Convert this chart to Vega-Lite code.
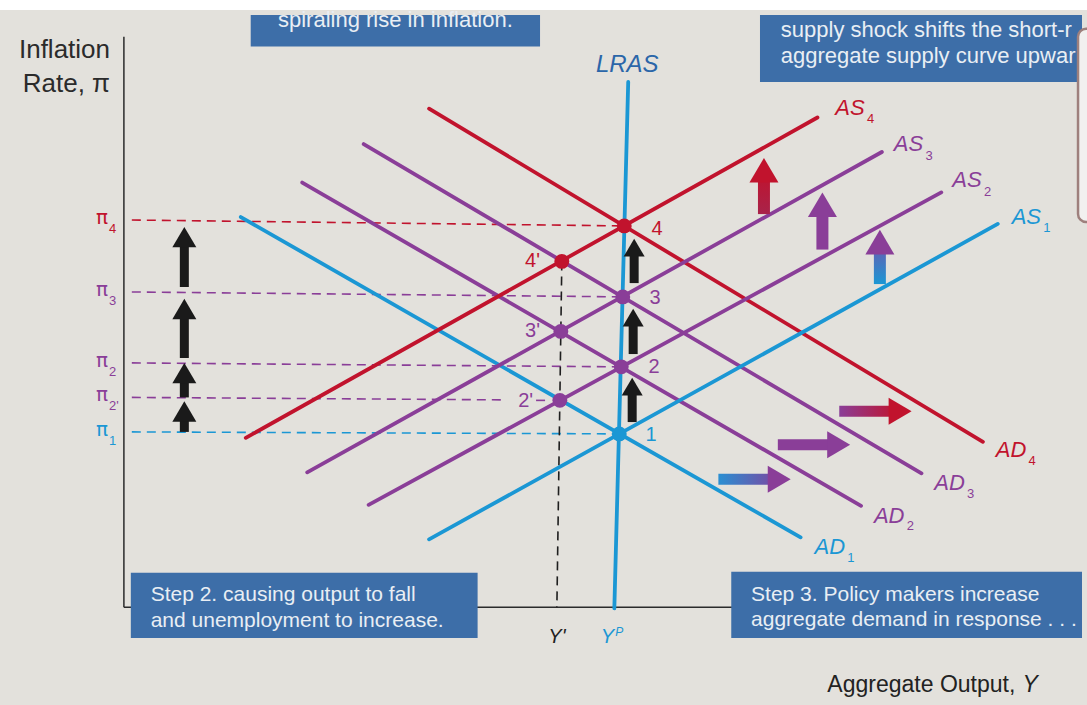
{
  "$schema": "https://vega.github.io/schema/vega-lite/v6.json",
  "width": 1087,
  "height": 695,
  "autosize": {"type": "none"},
  "padding": {"top": 10, "left": 0, "right": 0, "bottom": 0},
  "background": "#ffffff",
  "config": {"view": {"stroke": null, "fill": "#e3e1dc"}},
  "datasets": {
    "axes": [
      {"part": "yaxis", "stage": "0", "x": 0, "y": -0.01, "x2": 0, "y2": 5.78},
      {"part": "xaxis", "stage": "0", "x": 0, "y": -0.01, "x2": 8.9, "y2": -0.01}
    ],
    "guides": [
      {"g": "pi4", "stage": "4", "x": 0.08, "y": 3.92, "x2": 5.05, "y2": 3.86},
      {"g": "pi3", "stage": "3", "x": 0.08, "y": 3.19, "x2": 5.035, "y2": 3.14},
      {"g": "pi2", "stage": "2", "x": 0.08, "y": 2.47, "x2": 5.02, "y2": 2.43},
      {"g": "pi2p", "stage": "2", "x": 0.08, "y": 2.12, "x2": 3.86, "y2": 2.095},
      {"g": "pi2p_end", "stage": "2", "x": 4.16, "y": 2.09, "x2": 4.26, "y2": 2.09},
      {"g": "pi1", "stage": "1", "x": 0.08, "y": 1.77, "x2": 5.0, "y2": 1.75},
      {"g": "Yprime", "stage": "0", "x": 4.42, "y": 3.5, "x2": 4.37, "y2": -0.01}
    ],
    "curves": [
      {"curve": "AD1", "stage": "1", "x": 1.18, "y": 3.95, "x2": 6.83, "y2": 0.7},
      {"curve": "AD2", "stage": "2", "x": 1.8, "y": 4.3, "x2": 7.44, "y2": 1.02},
      {"curve": "AD3", "stage": "3", "x": 2.42, "y": 4.69, "x2": 8.05, "y2": 1.35},
      {"curve": "AD4", "stage": "4", "x": 3.08, "y": 5.05, "x2": 8.67, "y2": 1.67},
      {"curve": "AS1", "stage": "1", "x": 3.08, "y": 0.68, "x2": 8.82, "y2": 3.88},
      {"curve": "AS2", "stage": "2", "x": 2.47, "y": 1.03, "x2": 8.25, "y2": 4.2},
      {"curve": "AS3", "stage": "3", "x": 1.85, "y": 1.36, "x2": 7.65, "y2": 4.61},
      {"curve": "AS4", "stage": "4", "x": 1.23, "y": 1.71, "x2": 7.0, "y2": 4.96},
      {"curve": "LRAS", "stage": "1", "x": 4.95, "y": -0.02, "x2": 5.09, "y2": 5.32}
    ],
    "points": [
      {"pt": "1", "stage": "1", "x": 5.0, "y": 1.75},
      {"pt": "2", "stage": "2", "x": 5.02, "y": 2.43},
      {"pt": "3", "stage": "3", "x": 5.035, "y": 3.14},
      {"pt": "4", "stage": "4", "x": 5.05, "y": 3.86},
      {"pt": "2'", "stage": "2", "x": 4.4, "y": 2.09},
      {"pt": "3'", "stage": "3", "x": 4.41, "y": 2.79},
      {"pt": "4'", "stage": "4", "x": 4.42, "y": 3.5}
    ],
    "blackArrows": [
      {"set": "left", "stage": "0", "x": 0.61, "y": 1.77, "y2": 1.96, "yt": 2.08},
      {"set": "left", "stage": "0", "x": 0.61, "y": 2.12, "y2": 2.35, "yt": 2.47},
      {"set": "left", "stage": "0", "x": 0.61, "y": 2.52, "y2": 3.0, "yt": 3.12},
      {"set": "left", "stage": "0", "x": 0.61, "y": 3.24, "y2": 3.73, "yt": 3.85},
      {"set": "lras", "stage": "0", "x": 5.13, "y": 1.87, "y2": 2.22, "yt": 2.32},
      {"set": "lras", "stage": "0", "x": 5.14, "y": 2.56, "y2": 2.92, "yt": 3.02},
      {"set": "lras", "stage": "0", "x": 5.15, "y": 3.28, "y2": 3.63, "yt": 3.73}
    ],
    "upArrows": [
      {"a": "AS3toAS4", "stage": "4", "x": 6.46, "y": 3.98, "y2": 4.41, "yt": 4.55},
      {"a": "AS2toAS3", "stage": "3", "x": 7.05, "y": 3.62, "y2": 4.06, "yt": 4.2},
      {"a": "AS1toAS2", "stage": "2", "x": 7.63, "y": 3.27, "y2": 3.68, "yt": 3.82}
    ],
    "rightArrows": [
      {"a": "AD1toAD2", "stage": "2", "y": 1.29, "x": 6.0, "x2": 6.59, "xt": 6.73},
      {"a": "AD2toAD3", "stage": "3", "y": 1.64, "x": 6.6, "x2": 7.19, "xt": 7.33},
      {"a": "AD3toAD4", "stage": "4", "y": 1.98, "x": 7.22, "x2": 7.81, "xt": 7.95}
    ],
    "boxes": [
      {"b": "top-left", "x": 1.28, "x2": 4.2, "y": 6.0, "y2": 5.68},
      {"b": "top-right", "x": 6.42, "x2": 9.67, "y": 6.0, "y2": 5.32},
      {"b": "bottom-left", "x": 0.07, "x2": 3.57, "y": 0.34, "y2": -0.32},
      {"b": "bottom-right", "x": 6.13, "x2": 9.67, "y": 0.35, "y2": -0.32}
    ],
    "overlay": [
      {"x": 9.63, "x2": 9.9, "y": 5.86, "y2": 3.9}
    ],
    "labels": [
      {"role": "axis", "stage": "0", "text": "Inflation", "x": -0.14, "y": 5.56},
      {"role": "axis", "stage": "0", "text": "Rate, π", "x": -0.14, "y": 5.22},
      {"role": "lras", "stage": "1", "text": "LRAS", "x": 5.08, "y": 5.42},
      {"role": "curve", "stage": "4", "text": "AS", "x": 7.18, "y": 4.99},
      {"role": "sub", "stage": "4", "text": "4", "x": 7.5, "y": 4.9},
      {"role": "curve", "stage": "3", "text": "AS", "x": 7.77, "y": 4.62},
      {"role": "sub", "stage": "3", "text": "3", "x": 8.09, "y": 4.53},
      {"role": "curve", "stage": "2", "text": "AS", "x": 8.36, "y": 4.25},
      {"role": "sub", "stage": "2", "text": "2", "x": 8.68, "y": 4.16},
      {"role": "curve", "stage": "1", "text": "AS", "x": 8.96, "y": 3.88},
      {"role": "sub", "stage": "1", "text": "1", "x": 9.28, "y": 3.8},
      {"role": "curve", "stage": "4", "text": "AD", "x": 8.8, "y": 1.52},
      {"role": "sub", "stage": "4", "text": "4", "x": 9.13, "y": 1.43},
      {"role": "curve", "stage": "3", "text": "AD", "x": 8.18, "y": 1.18},
      {"role": "sub", "stage": "3", "text": "3", "x": 8.51, "y": 1.1},
      {"role": "curve", "stage": "2", "text": "AD", "x": 7.57, "y": 0.85},
      {"role": "sub", "stage": "2", "text": "2", "x": 7.9, "y": 0.77},
      {"role": "curve", "stage": "1", "text": "AD", "x": 6.97, "y": 0.53},
      {"role": "sub", "stage": "1", "text": "1", "x": 7.3, "y": 0.45},
      {"role": "pi", "stage": "4", "text": "π", "x": -0.22, "y": 3.88},
      {"role": "sub", "stage": "4", "text": "4", "x": -0.15, "y": 3.79},
      {"role": "pi", "stage": "3", "text": "π", "x": -0.22, "y": 3.15},
      {"role": "sub", "stage": "3", "text": "3", "x": -0.15, "y": 3.06},
      {"role": "pi", "stage": "2", "text": "π", "x": -0.22, "y": 2.43},
      {"role": "sub", "stage": "2", "text": "2", "x": -0.15, "y": 2.34},
      {"role": "pi", "stage": "2", "text": "π", "x": -0.22, "y": 2.08},
      {"role": "sub", "stage": "2", "text": "2'", "x": -0.15, "y": 1.99},
      {"role": "pi", "stage": "1", "text": "π", "x": -0.22, "y": 1.73},
      {"role": "sub", "stage": "1", "text": "1", "x": -0.15, "y": 1.64},
      {"role": "num", "stage": "4", "text": "4", "x": 5.38, "y": 3.83},
      {"role": "num", "stage": "3", "text": "3", "x": 5.36, "y": 3.13},
      {"role": "num", "stage": "2", "text": "2", "x": 5.35, "y": 2.43},
      {"role": "num", "stage": "1", "text": "1", "x": 5.32, "y": 1.74},
      {"role": "prime", "stage": "4", "text": "4'", "x": 4.2, "y": 3.5},
      {"role": "prime", "stage": "3", "text": "3'", "x": 4.2, "y": 2.79},
      {"role": "prime", "stage": "2", "text": "2'", "x": 4.13, "y": 2.08},
      {"role": "yl", "stage": "0", "text": "Y'", "x": 4.37, "y": -0.37},
      {"role": "yl", "stage": "1", "text": "Y", "x": 4.88, "y": -0.37},
      {"role": "sup", "stage": "1", "text": "P", "x": 4.96, "y": -0.3},
      {"role": "xlab", "stage": "0", "text": "Aggregate Output,", "x": 7.1, "y": -0.87},
      {"role": "xlabY", "stage": "0", "text": "Y", "x": 9.07, "y": -0.87},
      {"role": "box", "stage": "0", "text": "Step 2. causing output to fall", "x": 0.27, "y": 0.05},
      {"role": "box", "stage": "0", "text": "and unemployment to increase.", "x": 0.27, "y": -0.21},
      {"role": "box", "stage": "0", "text": "Step 3. Policy makers increase", "x": 6.33, "y": 0.05},
      {"role": "box", "stage": "0", "text": "aggregate demand in response . . .", "x": 6.33, "y": -0.2},
      {"role": "boxtr", "stage": "0", "text": "supply shock shifts the short-r", "x": 6.63, "y": 5.78},
      {"role": "boxtr", "stage": "0", "text": "aggregate supply curve upwar", "x": 6.63, "y": 5.51},
      {"role": "boxc", "stage": "0", "text": "spiraling rise in inflation.", "x": 2.74, "y": 5.88}
    ]
  },
  "layer": [
    {
      "data": {"name": "axes"},
      "mark": {"type": "rule", "color": "#2b2b2b", "strokeWidth": 1.5},
      "encoding": {
        "x": {"field": "x", "type": "quantitative", "scale": {"domain": [-1.2, 9.67], "nice": false, "zero": false}, "axis": null},
        "y": {"field": "y", "type": "quantitative", "scale": {"domain": [-0.95, 6.0], "nice": false, "zero": false}, "axis": null},
        "x2": {"field": "x2"},
        "y2": {"field": "y2"}
      }
    },
    {
      "data": {"name": "guides"},
      "mark": {"type": "rule", "strokeWidth": 1.6, "strokeDash": [9, 6]},
      "encoding": {
        "x": {"field": "x", "type": "quantitative"},
        "y": {"field": "y", "type": "quantitative"},
        "x2": {"field": "x2"},
        "y2": {"field": "y2"},
        "color": {"field": "stage", "type": "nominal", "scale": {"domain": ["0", "1", "2", "3", "4"], "range": ["#1f1f1f", "#1b97d4", "#8a3e98", "#8a3e98", "#c1132d"]}, "legend": null}
      }
    },
    {
      "data": {"name": "curves"},
      "mark": {"type": "rule", "strokeWidth": 3.8, "strokeCap": "round"},
      "encoding": {
        "x": {"field": "x", "type": "quantitative"},
        "y": {"field": "y", "type": "quantitative"},
        "x2": {"field": "x2"},
        "y2": {"field": "y2"},
        "color": {"field": "stage", "type": "nominal", "legend": null}
      }
    },
    {
      "data": {"name": "points"},
      "mark": {"type": "circle", "size": 220, "opacity": 1},
      "encoding": {
        "x": {"field": "x", "type": "quantitative"},
        "y": {"field": "y", "type": "quantitative"},
        "color": {"field": "stage", "type": "nominal", "legend": null}
      }
    },
    {
      "data": {"name": "blackArrows"},
      "mark": {"type": "bar", "width": 9, "color": "#1a1a1a"},
      "encoding": {
        "x": {"field": "x", "type": "quantitative"},
        "y": {"field": "y", "type": "quantitative"},
        "y2": {"field": "y2"}
      }
    },
    {
      "data": {"name": "blackArrows"},
      "transform": [{"filter": "datum.set === 'left'"}],
      "mark": {"type": "point", "shape": "M0,0L-1,1.7L1,1.7Z", "filled": true, "size": 576, "opacity": 1, "strokeWidth": 0, "color": "#1a1a1a"},
      "encoding": {
        "x": {"field": "x", "type": "quantitative"},
        "y": {"field": "yt", "type": "quantitative"}
      }
    },
    {
      "data": {"name": "blackArrows"},
      "transform": [{"filter": "datum.set === 'lras'"}],
      "mark": {"type": "point", "shape": "M0,0L-1,1.7L1,1.7Z", "filled": true, "size": 441, "opacity": 1, "strokeWidth": 0, "color": "#1a1a1a"},
      "encoding": {
        "x": {"field": "x", "type": "quantitative"},
        "y": {"field": "yt", "type": "quantitative"}
      }
    },
    {
      "data": {"name": "upArrows"},
      "transform": [{"filter": "datum.a === 'AS3toAS4'"}],
      "mark": {"type": "bar", "width": 12, "color": {"gradient": "linear", "x1": 0, "y1": 1, "x2": 0, "y2": 0, "stops": [{"offset": 0, "color": "#a8234a"}, {"offset": 1, "color": "#c1132d"}]}},
      "encoding": {
        "x": {"field": "x", "type": "quantitative"},
        "y": {"field": "y", "type": "quantitative"},
        "y2": {"field": "y2"}
      }
    },
    {
      "data": {"name": "upArrows"},
      "transform": [{"filter": "datum.a === 'AS2toAS3'"}],
      "mark": {"type": "bar", "width": 12, "color": "#8a3e98"},
      "encoding": {
        "x": {"field": "x", "type": "quantitative"},
        "y": {"field": "y", "type": "quantitative"},
        "y2": {"field": "y2"}
      }
    },
    {
      "data": {"name": "upArrows"},
      "transform": [{"filter": "datum.a === 'AS1toAS2'"}],
      "mark": {"type": "bar", "width": 12, "color": {"gradient": "linear", "x1": 0, "y1": 1, "x2": 0, "y2": 0, "stops": [{"offset": 0, "color": "#1b97d4"}, {"offset": 1, "color": "#6a5ab0"}]}},
      "encoding": {
        "x": {"field": "x", "type": "quantitative"},
        "y": {"field": "y", "type": "quantitative"},
        "y2": {"field": "y2"}
      }
    },
    {
      "data": {"name": "upArrows"},
      "mark": {"type": "point", "shape": "M0,0L-1,1.7L1,1.7Z", "filled": true, "size": 841, "opacity": 1, "strokeWidth": 0},
      "encoding": {
        "x": {"field": "x", "type": "quantitative"},
        "y": {"field": "yt", "type": "quantitative"},
        "color": {"field": "stage", "type": "nominal", "legend": null}
      }
    },
    {
      "data": {"name": "rightArrows"},
      "transform": [{"filter": "datum.a === 'AD1toAD2'"}],
      "mark": {"type": "bar", "height": 11, "color": {"gradient": "linear", "x1": 0, "y1": 0, "x2": 1, "y2": 0, "stops": [{"offset": 0, "color": "#2a8fd2"}, {"offset": 1, "color": "#7a48a2"}]}},
      "encoding": {
        "y": {"field": "y", "type": "quantitative"},
        "x": {"field": "x", "type": "quantitative"},
        "x2": {"field": "x2"}
      }
    },
    {
      "data": {"name": "rightArrows"},
      "transform": [{"filter": "datum.a === 'AD2toAD3'"}],
      "mark": {"type": "bar", "height": 11, "color": "#8a3e98"},
      "encoding": {
        "y": {"field": "y", "type": "quantitative"},
        "x": {"field": "x", "type": "quantitative"},
        "x2": {"field": "x2"}
      }
    },
    {
      "data": {"name": "rightArrows"},
      "transform": [{"filter": "datum.a === 'AD3toAD4'"}],
      "mark": {"type": "bar", "height": 11, "color": {"gradient": "linear", "x1": 0, "y1": 0, "x2": 1, "y2": 0, "stops": [{"offset": 0, "color": "#8a3e98"}, {"offset": 1, "color": "#c1132d"}]}},
      "encoding": {
        "y": {"field": "y", "type": "quantitative"},
        "x": {"field": "x", "type": "quantitative"},
        "x2": {"field": "x2"}
      }
    },
    {
      "data": {"name": "rightArrows"},
      "mark": {"type": "point", "shape": "M0,0L-1.7,-1L-1.7,1Z", "filled": true, "size": 729, "opacity": 1, "strokeWidth": 0},
      "encoding": {
        "x": {"field": "xt", "type": "quantitative"},
        "y": {"field": "y", "type": "quantitative"},
        "color": {"field": "stage", "type": "nominal", "legend": null}
      }
    },
    {
      "data": {"name": "boxes"},
      "mark": {"type": "rect", "color": "#3d6ea8"},
      "encoding": {
        "x": {"field": "x", "type": "quantitative"},
        "x2": {"field": "x2"},
        "y": {"field": "y", "type": "quantitative"},
        "y2": {"field": "y2"}
      }
    },
    {
      "data": {"name": "labels"},
      "transform": [{"filter": "datum.role === 'axis'"}],
      "mark": {"type": "text", "font": "Liberation Sans", "fontSize": 26, "align": "right", "baseline": "alphabetic", "color": "#2b2b2b"},
      "encoding": {
        "x": {"field": "x", "type": "quantitative"},
        "y": {"field": "y", "type": "quantitative"},
        "text": {"field": "text"}
      }
    },
    {
      "data": {"name": "labels"},
      "transform": [{"filter": "datum.role === 'lras'"}],
      "mark": {"type": "text", "font": "Liberation Sans", "fontSize": 24, "fontStyle": "italic", "align": "center", "baseline": "alphabetic", "color": "#2b66a9"},
      "encoding": {
        "x": {"field": "x", "type": "quantitative"},
        "y": {"field": "y", "type": "quantitative"},
        "text": {"field": "text"}
      }
    },
    {
      "data": {"name": "labels"},
      "transform": [{"filter": "datum.role === 'curve'"}],
      "mark": {"type": "text", "font": "Liberation Sans", "fontSize": 22, "fontStyle": "italic", "align": "left", "baseline": "alphabetic"},
      "encoding": {
        "x": {"field": "x", "type": "quantitative"},
        "y": {"field": "y", "type": "quantitative"},
        "text": {"field": "text"},
        "color": {"field": "stage", "type": "nominal", "legend": null}
      }
    },
    {
      "data": {"name": "labels"},
      "transform": [{"filter": "datum.role === 'sub'"}],
      "mark": {"type": "text", "font": "Liberation Sans", "fontSize": 13, "align": "left", "baseline": "alphabetic"},
      "encoding": {
        "x": {"field": "x", "type": "quantitative"},
        "y": {"field": "y", "type": "quantitative"},
        "text": {"field": "text"},
        "color": {"field": "stage", "type": "nominal", "legend": null}
      }
    },
    {
      "data": {"name": "labels"},
      "transform": [{"filter": "datum.role === 'pi'"}],
      "mark": {"type": "text", "font": "DejaVu Sans", "fontSize": 20, "align": "center", "baseline": "alphabetic"},
      "encoding": {
        "x": {"field": "x", "type": "quantitative"},
        "y": {"field": "y", "type": "quantitative"},
        "text": {"field": "text"},
        "color": {"field": "stage", "type": "nominal", "legend": null}
      }
    },
    {
      "data": {"name": "labels"},
      "transform": [{"filter": "datum.role === 'num'"}],
      "mark": {"type": "text", "font": "Liberation Sans", "fontSize": 20, "align": "center", "baseline": "middle"},
      "encoding": {
        "x": {"field": "x", "type": "quantitative"},
        "y": {"field": "y", "type": "quantitative"},
        "text": {"field": "text"},
        "color": {"field": "stage", "type": "nominal", "legend": null}
      }
    },
    {
      "data": {"name": "labels"},
      "transform": [{"filter": "datum.role === 'prime'"}],
      "mark": {"type": "text", "font": "Liberation Sans", "fontSize": 20, "align": "right", "baseline": "middle"},
      "encoding": {
        "x": {"field": "x", "type": "quantitative"},
        "y": {"field": "y", "type": "quantitative"},
        "text": {"field": "text"},
        "color": {"field": "stage", "type": "nominal", "legend": null}
      }
    },
    {
      "data": {"name": "labels"},
      "transform": [{"filter": "datum.role === 'yl'"}],
      "mark": {"type": "text", "font": "Liberation Sans", "fontSize": 20, "fontStyle": "italic", "align": "center", "baseline": "alphabetic"},
      "encoding": {
        "x": {"field": "x", "type": "quantitative"},
        "y": {"field": "y", "type": "quantitative"},
        "text": {"field": "text"},
        "color": {"field": "stage", "type": "nominal", "legend": null}
      }
    },
    {
      "data": {"name": "labels"},
      "transform": [{"filter": "datum.role === 'sup'"}],
      "mark": {"type": "text", "font": "Liberation Sans", "fontSize": 12, "fontStyle": "italic", "align": "left", "baseline": "alphabetic"},
      "encoding": {
        "x": {"field": "x", "type": "quantitative"},
        "y": {"field": "y", "type": "quantitative"},
        "text": {"field": "text"},
        "color": {"field": "stage", "type": "nominal", "legend": null}
      }
    },
    {
      "data": {"name": "labels"},
      "transform": [{"filter": "datum.role === 'xlab'"}],
      "mark": {"type": "text", "font": "Liberation Sans", "fontSize": 23, "align": "left", "baseline": "alphabetic", "color": "#222222"},
      "encoding": {
        "x": {"field": "x", "type": "quantitative"},
        "y": {"field": "y", "type": "quantitative"},
        "text": {"field": "text"}
      }
    },
    {
      "data": {"name": "labels"},
      "transform": [{"filter": "datum.role === 'xlabY'"}],
      "mark": {"type": "text", "font": "Liberation Sans", "fontSize": 23, "fontStyle": "italic", "align": "left", "baseline": "alphabetic", "color": "#222222"},
      "encoding": {
        "x": {"field": "x", "type": "quantitative"},
        "y": {"field": "y", "type": "quantitative"},
        "text": {"field": "text"}
      }
    },
    {
      "data": {"name": "labels"},
      "transform": [{"filter": "datum.role === 'box'"}],
      "mark": {"type": "text", "font": "Liberation Sans", "fontSize": 21, "align": "left", "baseline": "alphabetic", "color": "#e9eef4"},
      "encoding": {
        "x": {"field": "x", "type": "quantitative"},
        "y": {"field": "y", "type": "quantitative"},
        "text": {"field": "text"}
      }
    },
    {
      "data": {"name": "labels"},
      "transform": [{"filter": "datum.role === 'boxtr'"}],
      "mark": {"type": "text", "font": "Liberation Sans", "fontSize": 22, "align": "left", "baseline": "alphabetic", "color": "#e9eef4"},
      "encoding": {
        "x": {"field": "x", "type": "quantitative"},
        "y": {"field": "y", "type": "quantitative"},
        "text": {"field": "text"}
      }
    },
    {
      "data": {"name": "labels"},
      "transform": [{"filter": "datum.role === 'boxc'"}],
      "mark": {"type": "text", "font": "Liberation Sans", "fontSize": 22, "align": "center", "baseline": "alphabetic", "color": "#e9eef4", "clip": true},
      "encoding": {
        "x": {"field": "x", "type": "quantitative"},
        "y": {"field": "y", "type": "quantitative"},
        "text": {"field": "text"}
      }
    },
    {
      "data": {"name": "overlay"},
      "mark": {"type": "rect", "fill": "#f2f0ef", "stroke": "#9e807d", "strokeWidth": 2.5, "cornerRadius": 8, "clip": true},
      "encoding": {
        "x": {"field": "x", "type": "quantitative"},
        "x2": {"field": "x2"},
        "y": {"field": "y", "type": "quantitative"},
        "y2": {"field": "y2"}
      }
    }
  ]
}
